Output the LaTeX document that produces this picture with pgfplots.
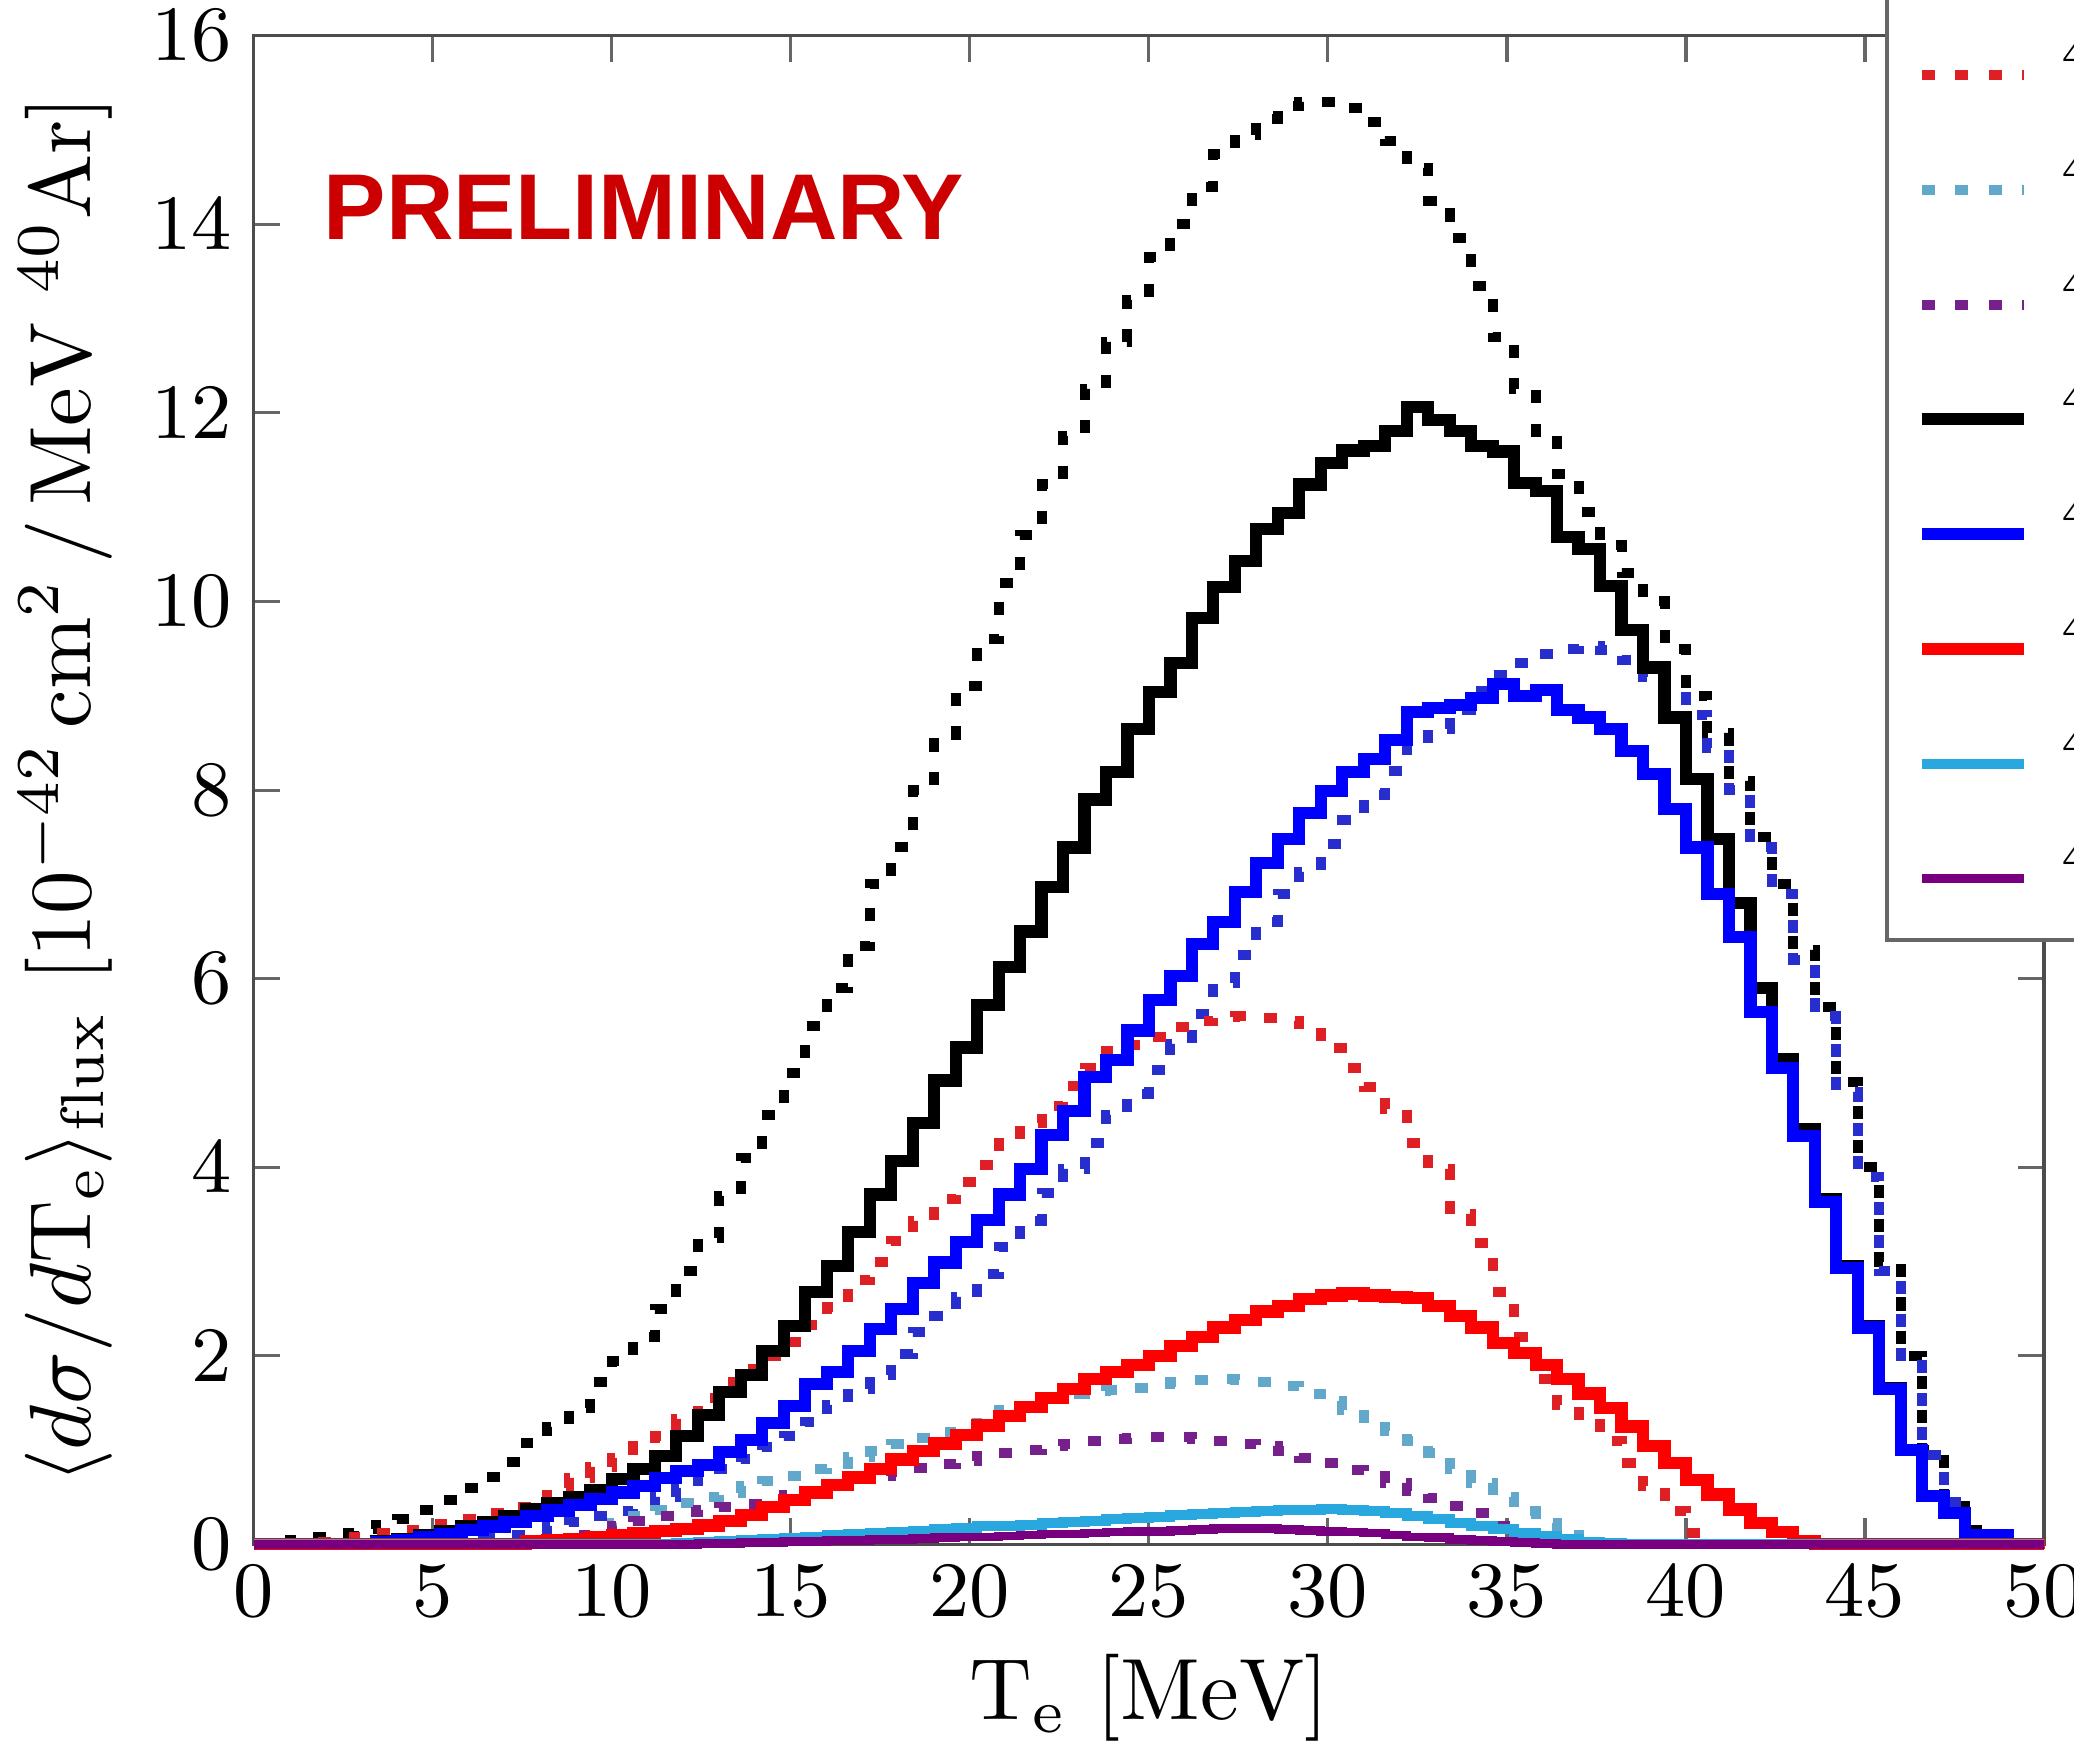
\documentclass[border=0pt]{standalone}
\usepackage{fontspec}
\usepackage{pgfplots}
\usepackage{pgfplotstable}
\pgfplotsset{compat=1.18}
\newfontfamily\prelimfont{Liberation Sans}
\definecolor{cRD}{RGB}{222,32,36}
\definecolor{cLBD}{RGB}{98,168,203}
\definecolor{cPD}{RGB}{118,32,140}
\definecolor{cBlD}{RGB}{40,45,205}
\definecolor{cBlS}{RGB}{0,0,255}
\definecolor{cRS}{RGB}{255,0,0}
\definecolor{cCS}{RGB}{40,168,222}
\definecolor{cPS}{RGB}{120,0,128}
\definecolor{cPre}{RGB}{204,0,0}
\tikzset{dotstyle/.style={line width=1.15pt, dash pattern=on 1.5pt off 2.35pt}}

\pgfplotstableread{
x bd bld rd lbd pd bs bls rs cs ps
0 0 0 0 0 0 0 0 0 0 0
0.4 0.02 0 0 0 0 0 0 0 0 0
1.0 0.05 0 0.01 0 0 0 0 0 0 0
1.6 0.08 0 0.03 0 0 0 0 0 0 0
2.2 0.12 0 0.05 0 0 0 0 0 0 0
2.8 0.16 0 0.08 0 0 0 0 0 0 0
3.4 0.21 0 0.12 0 0 0.03 0.02 0 0 0
4.0 0.27 0 0.15 0 0 0.06 0.05 0 0 0
4.6 0.37 0 0.19 0 0 0.10 0.08 0 0 0
5.2 0.47 0.02 0.22 0 0 0.14 0.11 0 0 0
5.8 0.60 0.04 0.27 0 0 0.19 0.15 0 0 0
6.4 0.72 0.07 0.33 0 0 0.24 0.19 0 0 0
7.0 0.87 0.10 0.40 0 0 0.30 0.24 0 0 0
7.6 1.08 0.14 0.50 0.02 0.02 0.37 0.30 0.03 0 0
8.2 1.25 0.19 0.60 0.05 0.06 0.44 0.36 0.05 0 0
8.8 1.45 0.24 0.70 0.10 0.10 0.50 0.42 0.06 0 0
9.4 1.72 0.30 0.82 0.16 0.15 0.58 0.48 0.08 0 0
10.0 1.95 0.35 0.92 0.23 0.20 0.69 0.55 0.10 0 0
10.6 2.20 0.42 1.04 0.30 0.25 0.80 0.62 0.12 0 0
11.2 2.50 0.50 1.15 0.37 0.30 0.94 0.70 0.14 0 0
11.8 2.90 0.60 1.33 0.44 0.34 1.15 0.78 0.16 0.02 0
12.4 3.25 0.70 1.55 0.50 0.37 1.37 0.84 0.20 0.03 0.01
13.0 3.70 0.80 1.72 0.55 0.40 1.62 0.98 0.25 0.04 0.01
13.6 4.10 0.91 1.86 0.62 0.43 1.80 1.11 0.31 0.05 0.02
14.2 4.55 1.03 2.00 0.67 0.48 2.05 1.29 0.40 0.06 0.02
14.8 5.00 1.15 2.15 0.73 0.52 2.32 1.47 0.47 0.07 0.03
15.4 5.50 1.30 2.33 0.80 0.57 2.68 1.70 0.55 0.08 0.03
16.0 5.90 1.48 2.52 0.85 0.63 2.95 1.83 0.63 0.10 0.04
16.6 6.35 1.65 2.80 0.93 0.69 3.31 2.05 0.71 0.11 0.04
17.2 7.00 1.80 3.00 0.99 0.73 3.71 2.28 0.80 0.12 0.05
17.8 7.40 2.02 3.22 1.06 0.77 4.07 2.50 0.90 0.13 0.05
18.4 8.00 2.25 3.43 1.13 0.81 4.47 2.77 0.99 0.14 0.06
19.0 8.50 2.42 3.66 1.19 0.85 4.92 2.99 1.07 0.16 0.07
19.6 9.10 2.62 3.84 1.26 0.88 5.27 3.21 1.16 0.17 0.08
20.2 9.60 2.87 4.02 1.35 0.94 5.72 3.44 1.26 0.19 0.08
20.8 10.20 3.15 4.26 1.42 0.97 6.12 3.71 1.36 0.20 0.09
21.4 10.70 3.43 4.47 1.47 1.00 6.50 3.98 1.46 0.21 0.10
22.0 11.25 3.73 4.65 1.55 1.04 6.97 4.34 1.55 0.23 0.11
22.6 11.75 3.98 4.86 1.60 1.07 7.39 4.60 1.65 0.24 0.11
23.2 12.25 4.26 5.05 1.63 1.10 7.90 4.96 1.75 0.25 0.12
23.8 12.75 4.55 5.23 1.64 1.12 8.19 5.14 1.83 0.27 0.13
24.4 13.20 4.78 5.30 1.66 1.13 8.65 5.45 1.90 0.28 0.14
25.0 13.65 5.03 5.38 1.70 1.14 9.04 5.77 2.00 0.29 0.14
25.6 14.00 5.31 5.49 1.72 1.14 9.35 6.03 2.10 0.31 0.15
26.2 14.40 5.63 5.55 1.74 1.12 9.82 6.37 2.20 0.32 0.16
26.8 14.75 5.95 5.59 1.75 1.10 10.15 6.60 2.30 0.33 0.17
27.4 14.95 6.25 5.60 1.74 1.07 10.43 6.92 2.38 0.34 0.17
28.0 15.12 6.60 5.58 1.72 1.04 10.77 7.23 2.47 0.35 0.17
28.6 15.25 6.90 5.55 1.68 0.99 10.94 7.48 2.53 0.36 0.16
29.2 15.30 7.13 5.42 1.60 0.92 11.24 7.76 2.60 0.37 0.15
29.8 15.30 7.43 5.26 1.52 0.86 11.47 7.99 2.64 0.38 0.14
30.4 15.23 7.68 5.05 1.43 0.79 11.60 8.19 2.66 0.37 0.13
31.0 15.08 7.95 4.85 1.34 0.73 11.65 8.33 2.64 0.35 0.12
31.6 14.88 8.20 4.62 1.20 0.65 11.81 8.53 2.62 0.33 0.10
32.2 14.60 8.45 4.26 1.10 0.57 12.06 8.83 2.61 0.30 0.08
32.8 14.25 8.65 3.98 0.97 0.49 11.92 8.87 2.53 0.27 0.07
33.4 13.85 8.85 3.50 0.80 0.41 11.81 8.90 2.42 0.23 0.05
34.0 13.35 9.05 3.20 0.65 0.33 11.65 8.98 2.30 0.20 0.04
34.6 12.80 9.22 2.68 0.50 0.20 11.59 9.12 2.14 0.16 0.03
35.2 12.25 9.35 2.20 0.35 0.08 11.26 9.00 2.03 0.12 0.02
35.8 11.80 9.44 1.75 0.23 0.02 11.17 9.06 1.90 0.09 0.01
36.4 11.35 9.50 1.48 0.10 0 10.68 8.85 1.75 0.06 0
37.0 10.95 9.53 1.28 0.03 0 10.56 8.77 1.60 0.03 0
37.6 10.60 9.48 1.10 0 0 10.16 8.65 1.45 0.01 0
38.2 10.30 9.38 0.86 0 0 9.70 8.41 1.25 0 0
38.8 10.00 9.20 0.62 0 0 9.30 8.17 1.04 0 0
39.4 9.50 9.05 0.35 0 0 8.77 7.80 0.86 0 0
40.0 9.00 8.80 0.12 0 0 8.12 7.39 0.68 0 0
40.6 8.60 8.45 0 0 0 7.48 6.90 0.53 0 0
41.2 8.10 8.00 0 0 0 6.80 6.44 0.37 0 0
41.8 7.50 7.40 0 0 0 5.90 5.65 0.23 0 0
42.4 7.00 6.90 0 0 0 5.15 5.05 0.13 0 0
43.0 6.30 6.20 0 0 0 4.40 4.33 0.04 0 0
43.6 5.70 5.60 0 0 0 3.66 3.63 0 0 0
44.2 4.90 4.80 0 0 0 2.95 2.93 0 0 0
44.8 4.00 3.90 0 0 0 2.31 2.30 0 0 0
45.4 3.00 2.90 0 0 0 1.66 1.65 0 0 0
46.0 2.00 1.90 0 0 0 1.00 1.00 0 0 0
46.6 1.00 0.95 0 0 0 0.51 0.51 0 0 0
47.2 0.50 0.45 0 0 0 0.33 0.33 0 0 0
47.8 0.15 0.10 0 0 0 0.10 0.10 0 0 0
48.4 0 0 0 0 0 0.10 0.10 0 0 0
49.0 0 0 0 0 0 0 0 0 0 0
50.0 0 0 0 0 0 0 0 0 0 0
}\datatab

\begin{document}
\begin{tikzpicture}
\path[use as bounding box, clip] (0pt,0pt) rectangle (238.5pt,200.4pt);
\begin{axis}[
  scale only axis,
  width=205.85pt, height=173.5pt,
  at={(29.2pt,22.8pt)}, anchor=south west,
  xmin=0, xmax=50, ymin=0, ymax=16,
  xtick={0,5,...,50}, ytick={0,2,...,16},
  clip=false,
  axis line style={black!70, line width=0.35pt},
  major tick style={black!60, line width=0.35pt},
  major tick length=3pt,
  tick align=inside,
  ticklabel style={font=\fontsize{9.2}{10}\selectfont, inner sep=2.3pt},
  xlabel={$\mathrm{T_e}\ [\mathrm{MeV}]$},
  xlabel style={font=\fontsize{10}{12}\selectfont, at={(axis description cs:0.5,-0.116)}, anchor=base},
  ylabel={$\langle d\sigma/d\mathrm{T}_{\mathrm{e}}\rangle_{\mathrm{flux}}\ [10^{-42}\,\mathrm{cm}^2\,/\,\mathrm{MeV}\ {}^{40}\mathrm{Ar}]$},
  ylabel style={font=\fontsize{10}{12}\selectfont, at={(axis description cs:-0.105,0.5)}, anchor=center},
  legend style={at={(0.911,0.399)}, anchor=south west, draw=black!60, line width=0.5pt, fill=white,
    font=\fontsize{9.5}{10}\selectfont, inner sep=0.5pt, column sep=3.6pt, row sep=0pt,
    nodes={inner sep=0pt, minimum height=13.2pt}},
  legend cell align=left,
  legend image code/.code={\path (0pt,0pt); \draw[#1] (2.8pt,0pt) -- (14.6pt,0pt);},
]
\addplot[const plot, black, dotstyle] table[x=x,y=bd]{\datatab};
\addlegendentry{$^{40}$Ar}
\addplot[const plot, cBlD, dotstyle] table[x=x,y=bld]{\datatab};
\addlegendentry{$^{40}$Ar}
\addplot[const plot, cRD, dotstyle] table[x=x,y=rd]{\datatab};
\addlegendentry{$^{40}$Ar}
\addplot[const plot, cLBD, dotstyle] table[x=x,y=lbd]{\datatab};
\addlegendentry{$^{40}$Ar}
\addplot[const plot, cPD, dotstyle] table[x=x,y=pd]{\datatab};
\addlegendentry{$^{40}$Ar}
\addplot[const plot, black, line width=1.4pt] table[x=x,y=bs]{\datatab};
\addlegendentry{$^{40}$Ar}
\addplot[const plot, cBlS, line width=1.4pt] table[x=x,y=bls]{\datatab};
\addlegendentry{$^{40}$Ar}
\addplot[const plot, cRS, line width=1.4pt] table[x=x,y=rs]{\datatab};
\addlegendentry{$^{40}$Ar}
\addplot[const plot, cCS, line width=1.15pt] table[x=x,y=cs]{\datatab};
\addlegendentry{$^{40}$Ar}
\addplot[const plot, cPS, line width=1.0pt] table[x=x,y=ps]{\datatab};
\addlegendentry{$^{40}$Ar}
\node[anchor=west, inner sep=0pt, text=cPre, font=\prelimfont\bfseries\fontsize{10.75}{12}\selectfont] at (axis cs:1.9,14.18) {PRELIMINARY};
\end{axis}
\end{tikzpicture}
\end{document}
